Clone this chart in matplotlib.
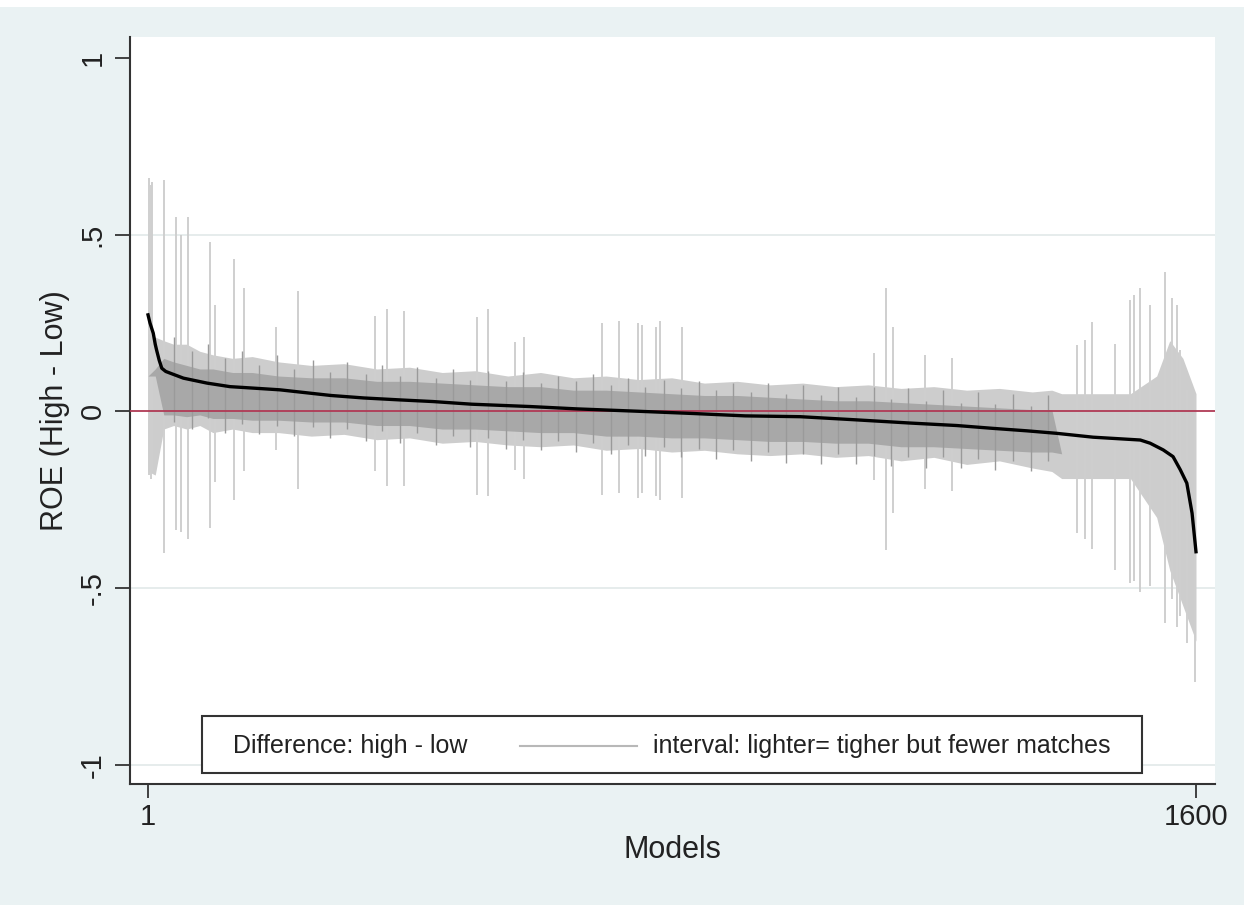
import matplotlib
matplotlib.use("Agg")
import matplotlib.pyplot as plt
from matplotlib.patches import Rectangle
from matplotlib.lines import Line2D

plt.rcParams['font.family'] = ['Liberation Sans', 'DejaVu Sans']

# ---- data ----
# sorted difference (high - low) across models
diff_x = [1, 4, 9, 12, 14, 18, 22, 28, 35, 55, 91, 126, 177, 202, 280, 330, 385, 436, 495,
          584, 655, 747, 833, 912, 996, 1082, 1164, 1235, 1290, 1342, 1387, 1443, 1515,
          1530, 1550, 1565, 1576, 1586, 1594, 1600]
diff_y = [0.273, 0.25, 0.221, 0.19, 0.174, 0.145, 0.122, 0.113, 0.108, 0.094, 0.080, 0.070,
          0.064, 0.061, 0.045, 0.038, 0.0325, 0.0278, 0.0203, 0.0137, 0.0071, 0.0005,
          -0.006, -0.0127, -0.015, -0.024, -0.033, -0.040, -0.048, -0.055, -0.062, -0.073,
          -0.081, -0.090, -0.109, -0.128, -0.165, -0.203, -0.288, -0.397]

# typical interval extents (outer, lighter) and dense core (darker)
band_x = [1, 12, 25, 40, 60, 80, 100, 130, 160, 200, 250, 300, 350, 400, 450, 500, 550,
          600, 650, 700, 750, 800, 850, 900, 950, 1000, 1050, 1100, 1150, 1200, 1250,
          1300, 1350, 1380, 1395, 1450, 1500, 1540, 1560, 1580, 1600]
band_hi = [0.22, 0.21, 0.20, 0.19, 0.19, 0.17, 0.16, 0.15, 0.155, 0.14, 0.13, 0.135, 0.12,
           0.125, 0.11, 0.115, 0.10, 0.11, 0.095, 0.10, 0.09, 0.095, 0.08, 0.085, 0.075,
           0.08, 0.07, 0.075, 0.065, 0.07, 0.06, 0.065, 0.055, 0.06, 0.05, 0.05, 0.05,
           0.10, 0.20, 0.15, 0.05]
band_lo = [-0.17, -0.18, -0.05, -0.04, -0.05, -0.04, -0.06, -0.05, -0.06, -0.06, -0.07,
           -0.065, -0.08, -0.075, -0.09, -0.085, -0.095, -0.10, -0.095, -0.11, -0.105,
           -0.115, -0.11, -0.12, -0.125, -0.12, -0.13, -0.125, -0.14, -0.13, -0.15, -0.14,
           -0.16, -0.17, -0.19, -0.19, -0.19, -0.30, -0.45, -0.55, -0.65]
core_hi = [0.10, 0.12, 0.15, 0.14, 0.13, 0.12, 0.12, 0.11, 0.11, 0.10, 0.095, 0.095, 0.085,
           0.085, 0.08, 0.075, 0.07, 0.07, 0.06, 0.06, 0.055, 0.05, 0.045, 0.045, 0.04,
           0.035, 0.03, 0.03, 0.025, 0.02, 0.015, 0.01, 0.005, 0.005, -0.12, -0.12, -0.12,
           -0.12, -0.14, -0.16, -0.18]
core_lo = [0.10, 0.10, -0.01, -0.01, -0.015, -0.01, -0.02, -0.02, -0.025, -0.025, -0.03,
           -0.03, -0.04, -0.04, -0.05, -0.05, -0.055, -0.06, -0.06, -0.07, -0.07, -0.075,
           -0.075, -0.08, -0.085, -0.085, -0.09, -0.09, -0.10, -0.10, -0.105, -0.11,
           -0.115, -0.115, -0.12, -0.12, -0.12, -0.12, -0.14, -0.16, -0.18]

# darker individual intervals inside the dense band (texture)
streak_x = [40, 68, 92, 118, 145, 170, 198, 224, 252, 279, 305, 333, 358, 386, 412, 440,
            466, 493, 520, 547, 573, 600, 626, 654, 680, 707, 733, 760, 788, 814, 841, 867,
            894, 921, 947, 975, 1001, 1028, 1054, 1081, 1108, 1134, 1161, 1188, 1214, 1241,
            1268, 1294, 1321, 1348, 1374]
streak_hi = [0.21, 0.17, 0.19, 0.15, 0.17, 0.13, 0.16, 0.12, 0.145, 0.11, 0.14, 0.105, 0.13,
             0.10, 0.125, 0.095, 0.12, 0.09, 0.115, 0.085, 0.11, 0.08, 0.10, 0.085, 0.105,
             0.075, 0.095, 0.07, 0.09, 0.065, 0.085, 0.06, 0.08, 0.055, 0.08, 0.05, 0.075,
             0.045, 0.07, 0.04, 0.07, 0.035, 0.065, 0.03, 0.06, 0.025, 0.055, 0.02, 0.05,
             0.015, 0.045]
streak_lo = [-0.03, -0.05, -0.02, -0.06, -0.035, -0.065, -0.04, -0.07, -0.045, -0.075, -0.05,
             -0.085, -0.055, -0.09, -0.06, -0.095, -0.07, -0.10, -0.075, -0.105, -0.08, -0.11,
             -0.085, -0.115, -0.09, -0.12, -0.095, -0.125, -0.10, -0.13, -0.105, -0.135,
             -0.11, -0.14, -0.115, -0.145, -0.12, -0.15, -0.12, -0.15, -0.125, -0.155, -0.13,
             -0.16, -0.13, -0.16, -0.135, -0.165, -0.14, -0.17, -0.14]

# wide, lighter intervals (few matches)
spike_x = [3, 5, 7, 26, 43, 51, 62, 95, 103, 132, 147, 196, 230, 347, 365, 392, 503, 520,
           561, 575, 693, 719, 748, 754, 776, 782, 815, 1109, 1127, 1137, 1187, 1227,
           1418, 1431, 1441, 1476, 1499, 1506, 1514, 1530, 1553, 1563, 1571, 1576, 1586,
           1598]
spike_lo = [-0.18, -0.19, -0.17, -0.40, -0.335, -0.34, -0.36, -0.33, -0.20, -0.25, -0.17,
            -0.11, -0.22, -0.17, -0.21, -0.21, -0.236, -0.24, -0.165, -0.19, -0.236, -0.23,
            -0.245, -0.23, -0.24, -0.25, -0.245, -0.194, -0.392, -0.288, -0.22, -0.225,
            -0.344, -0.36, -0.39, -0.45, -0.485, -0.48, -0.51, -0.495, -0.60, -0.53, -0.61,
            -0.58, -0.655, -0.765]
spike_hi = [0.66, 0.64, 0.65, 0.655, 0.55, 0.50, 0.55, 0.48, 0.30, 0.43, 0.35, 0.24, 0.34,
            0.27, 0.29, 0.285, 0.268, 0.29, 0.197, 0.21, 0.25, 0.255, 0.25, 0.245, 0.24,
            0.255, 0.24, 0.165, 0.349, 0.24, 0.16, 0.15, 0.188, 0.202, 0.254, 0.19, 0.315,
            0.33, 0.349, 0.30, 0.395, 0.32, 0.30, 0.174, 0.06, 0.05]

y_ticks = [-1, -0.5, 0, 0.5, 1]
y_tick_labels = ["-1", "-.5", "0", ".5", "1"]
x_ticks = [1, 1600]
x_tick_labels = ["1", "1600"]

# ---- figure ----
W, H = 1244, 905
fig = plt.figure(figsize=(W / 100, H / 100), dpi=100, facecolor='#eaf2f3')
fig.patches.append(Rectangle((0, 1 - 7 / H), 1, 7 / H, transform=fig.transFigure,
                             facecolor='white', edgecolor='none', zorder=0))

ax = fig.add_axes([130 / W, 1 - 784 / H, 1085 / W, 747 / H])
ax.set_facecolor('white')
ax.set_xlim(-26.5, 1629)
ax.set_ylim(-1.054, 1.059)

for g in [0.5, -0.5, -1]:
    ax.axhline(g, color='#e4eaea', lw=1.3, zorder=0)

ax.fill_between(band_x, band_lo, band_hi, color='#cdcdcd', lw=0, zorder=1)
ax.vlines(spike_x, spike_lo, spike_hi, color='#cfcfcf', lw=1.4, zorder=1.5)
ax.fill_between(band_x, core_lo, core_hi, where=[h > l for h, l in zip(core_hi, core_lo)],
                color='#a8a8a8', lw=0, zorder=2, interpolate=True)
ax.vlines(streak_x, streak_lo, streak_hi, color='#9a9a9a', lw=1.0, zorder=2.5)

ax.axhline(0, color='#b03a55', lw=1.3, zorder=3)
ax.plot(diff_x, diff_y, color='black', lw=2.4, zorder=4, solid_joinstyle='round')

for s in ['top', 'right']:
    ax.spines[s].set_visible(False)
for s in ['left', 'bottom']:
    ax.spines[s].set_color('#333333')
    ax.spines[s].set_linewidth(1.5)

ax.set_yticks(y_ticks)
ax.set_yticklabels(y_tick_labels, rotation=90, va='center')
ax.set_xticks(x_ticks)
ax.set_xticklabels(x_tick_labels)
ax.tick_params(axis='y', length=11, width=1.3, color='#333333', pad=6,
               labelsize=21, labelcolor='#222222')
ax.tick_params(axis='x', length=10, width=1.3, color='#333333', pad=4,
               labelsize=21, labelcolor='#222222')

ax.set_ylabel("ROE (High - Low)", fontsize=22, color='#222222')
ax.yaxis.set_label_coords(-0.0553, 0.5)
ax.set_xlabel("Models", fontsize=22, color='#222222')
ax.xaxis.set_label_coords(0.5, -0.068)

# legend drawn as a box in figure space
fig.patches.append(Rectangle((202 / W, 1 - 773 / H), 940 / W, 57 / H,
                             transform=fig.transFigure, facecolor='white',
                             edgecolor='#333333', lw=1.5, zorder=5))
ly = 1 - 746 / H
fig.text(233 / W, ly, "Difference: high - low", fontsize=18, color='#222222',
         va='center', ha='left', zorder=6)
fig.lines.append(Line2D([520 / W, 637 / W], [ly, ly], transform=fig.transFigure,
                        color='#b8b8b8', lw=1.5, zorder=6))
fig.text(653 / W, ly, "interval: lighter= tigher but fewer matches", fontsize=18,
         color='#222222', va='center', ha='left', zorder=6)

fig.savefig("out.png", dpi=100, facecolor=fig.get_facecolor())
